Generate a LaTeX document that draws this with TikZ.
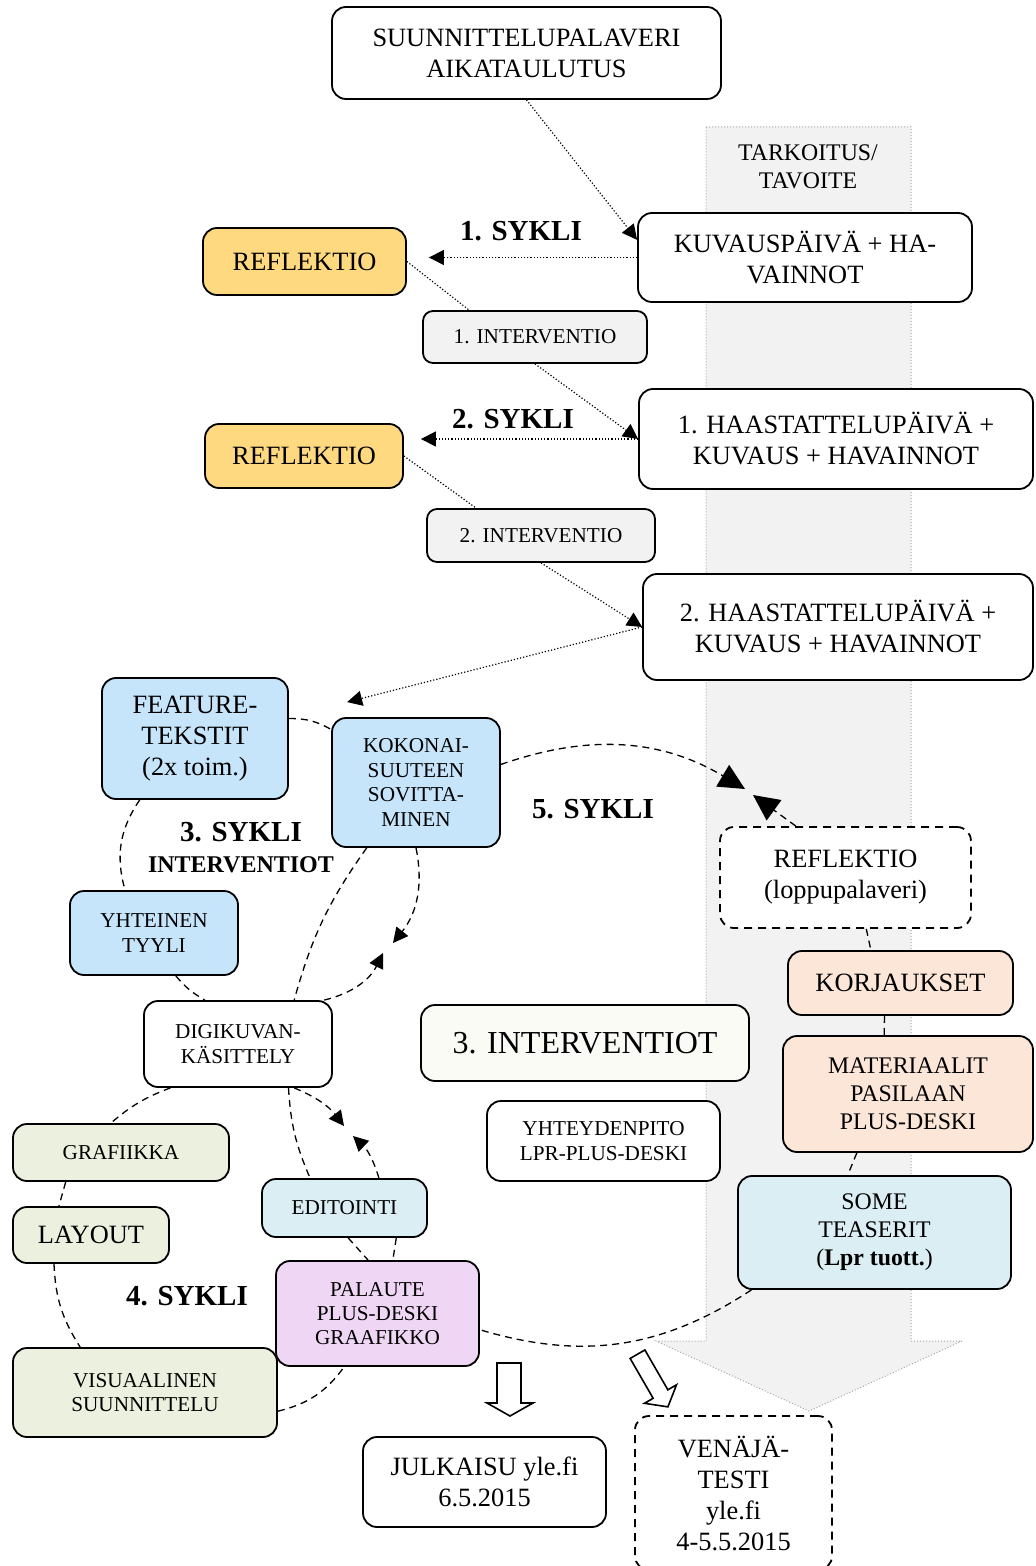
\documentclass[tikz,border=0pt]{standalone}
\usepackage{fontspec}
\setmainfont{Liberation Serif}
\usetikzlibrary{arrows.meta}

\definecolor{keltainen}{HTML}{FFD97F}
\definecolor{harmaa}{HTML}{F2F2F2}
\definecolor{sininen}{HTML}{C6E4FA}
\definecolor{vihrea}{HTML}{EBF1DE}
\definecolor{turkoosi}{HTML}{DAEEF3}
\definecolor{lila}{HTML}{F0D6F5}
\definecolor{persikka}{HTML}{FCE6D8}
\definecolor{luonnos}{HTML}{FAFBF5}

\tikzset{
  rbox/.style={draw, line width=0.9pt, rounded corners=7pt, align=center, inner sep=1pt, fill=white},
  dbox/.style={rbox, dash pattern=on 4pt off 3pt},
  fL/.style={font=\fontsize{13.2}{15.5}\selectfont},
  fM/.style={font=\fontsize{11.9}{14}\selectfont},
  fS/.style={font=\fontsize{10.6}{12.2}\selectfont},
  sykli/.style={font=\bfseries\fontsize{14.5}{15.5}\selectfont, align=center},
  pis/.style={densely dotted, line width=0.6pt},
  kat/.style={dash pattern=on 3.5pt off 2.5pt, line width=0.65pt},
  pk/.style={-{Triangle[length=7.5pt,width=7.5pt]}},
  ik/.style={-{Triangle[length=13pt,width=12.5pt]}},
}

\begin{document}
\begin{tikzpicture}[x=0.5pt,y=-0.5pt]
  \useasboundingbox (0,0) rectangle (1035,1566);

  %iso harmaa nuoli
  \draw[gray!70, densely dotted, fill=harmaa, line width=0.5pt] (706,127) -- (911,127) -- (911,1341) -- (962,1341) -- (809,1411) -- (656,1341) -- (706,1341) -- cycle;

  %ylaosa
  \node[rbox,fL,minimum width=194.5pt,minimum height=46pt] (plan) at (526.5,53) {SUUNNITTELUPALAVERI\\AIKATAULUTUS};
  \node[fM,align=center] (tavoite) at (808,167) {TARKOITUS/\\TAVOITE};
  \node[rbox,fL,minimum width=167pt,minimum height=44.5pt] (kuvaus) at (805,257.5) {KUVAUSPÄIVÄ + HA-\\VAINNOT};
  \node[rbox,fL,minimum width=197pt,minimum height=50pt] (haast1) at (836,439) {1. HAASTATTELUPÄIVÄ +\\KUVAUS + HAVAINNOT};
  \node[rbox,fL,minimum width=195pt,minimum height=53pt] (haast2) at (838,627) {2. HAASTATTELUPÄIVÄ +\\KUVAUS + HAVAINNOT};
  \node[rbox,fL,fill=keltainen,minimum width=101.5pt,minimum height=33.5pt] (refl1) at (304.5,261.5) {REFLEKTIO};
  \node[rbox,fS,fill=harmaa,rounded corners=5pt,minimum width=112pt,minimum height=26pt] (int1) at (535,337) {1. INTERVENTIO};
  \node[rbox,fL,fill=keltainen,minimum width=99pt,minimum height=32pt] (refl2) at (304,456) {REFLEKTIO};
  \node[rbox,fS,fill=harmaa,rounded corners=5pt,minimum width=114pt,minimum height=26.5pt] (int2) at (541,535.5) {2. INTERVENTIO};
  \node[sykli] (sykli1) at (521,231) {1. SYKLI};
  \node[sykli] (sykli2) at (513,419) {2. SYKLI};

  %3. sykli
  \node[rbox,fL,fill=sininen,minimum width=93pt,minimum height=60.5pt] (feature) at (195,738.5) {FEATURE-\\TEKSTIT\\(2x toim.)};
  \node[rbox,fS,fill=sininen,minimum width=84pt,minimum height=64.5pt] (kokonai) at (416,782.5) {KOKONAI-\\SUUTEEN\\SOVITTA-\\MINEN};
  \node[rbox,fS,fill=sininen,minimum width=84pt,minimum height=42pt] (yhteinen) at (154,933) {YHTEINEN\\TYYLI};
  \node[rbox,fS,minimum width=94pt,minimum height=43pt] (digi) at (238,1044) {DIGIKUVAN-\\KÄSITTELY};
  \node[sykli] (sykli3) at (241,848) {3. SYKLI\\{\fontsize{12}{15.5}\selectfont INTERVENTIOT}};

  %4. sykli
  \node[rbox,fS,fill=vihrea,minimum width=108pt,minimum height=28.5pt] (grafiikka) at (121,1152.5) {GRAFIIKKA};
  \node[rbox,fL,fill=vihrea,minimum width=78pt,minimum height=28pt] (layout) at (91,1235) {LAYOUT};
  \node[rbox,fS,fill=vihrea,minimum width=132pt,minimum height=44.5pt] (visu) at (145,1392.5) {VISUAALINEN\\SUUNNITTELU};
  \node[rbox,fS,fill=turkoosi,minimum width=82.5pt,minimum height=29pt] (editointi) at (344.5,1208) {EDITOINTI};
  \node[rbox,fS,fill=lila,minimum width=101.5pt,minimum height=52.5pt] (palaute) at (377.5,1313.5) {PALAUTE\\PLUS-DESKI\\GRAAFIKKO};
  \node[sykli] (sykli4) at (187,1296) {4. SYKLI};

  %keskiosa
  \node[rbox,fill=luonnos,font=\fontsize{16}{19}\selectfont,minimum width=164pt,minimum height=38pt] (intv3) at (585,1043) {3. INTERVENTIOT};
  \node[rbox,fS,minimum width=116.5pt,minimum height=40pt] (yhteys) at (603.5,1141) {YHTEYDENPITO\\LPR-PLUS-DESKI};
  \node[sykli] (sykli5) at (593,809) {5. SYKLI};

  %5. sykli
  \node[dbox,fL,minimum width=125.5pt,minimum height=50.5pt] (loppu) at (845.5,877.5) {REFLEKTIO\\(loppupalaveri)};
  \node[rbox,fL,fill=persikka,minimum width=112.5pt,minimum height=32pt] (korj) at (900.5,983) {KORJAUKSET};
  \node[rbox,fM,fill=persikka,minimum width=125pt,minimum height=58pt] (mater) at (908,1094) {MATERIAALIT\\PASILAAN\\PLUS-DESKI};
  \node[rbox,fM,fill=turkoosi,minimum width=136.5pt,minimum height=56.5pt] (some) at (874.5,1232.5) {SOME\\TEASERIT\\(\textbf{Lpr tuott.})};

  %julkaisu
  \node[rbox,fL,minimum width=121.5pt,minimum height=45pt] (julk) at (484.5,1482) {JULKAISU yle.fi\\6.5.2015};
  \node[dbox,fL,minimum width=98.5pt,minimum height=77pt] (venaja) at (733.5,1493) {VENÄJÄ-\\TESTI\\yle.fi\\4-5.5.2015};

  %ontot nuolet
  \draw[line width=0.8pt,fill=white] (497,1363) -- (521,1363) -- (521,1403) -- (533,1403) -- (510,1416) -- (487,1403) -- (497,1403) -- cycle;
  \begin{scope}[shift={(637.5,1354.2)},rotate=30]
    \draw[line width=0.8pt,fill=white] (-8.5,0) -- (8.5,0) -- (8.5,46) -- (18.5,46) -- (0,60.8) -- (-18.5,46) -- (-8.5,46) -- cycle;
  \end{scope}

  %pisteviivat
  \draw[pis,pk] (plan.south) -- (kuvaus.174);
  \draw[pis,pk,shorten >=11pt] (kuvaus.west) -- (kuvaus.west -| refl1.east);
  \draw[pis] (refl1.east) -- ([xshift=23.5pt]int1.north west);
  \draw[pis,pk] (int1.south) -- (haast1.west);
  \draw[pis,pk,shorten >=8.5pt] (haast1.west) -- (haast1.west -| refl2.east);
  \draw[pis] (refl2.east) -- ([xshift=25pt]int2.north west);
  \draw[pis,pk] (int2.south) -- (haast2.west);
  \draw[pis,pk] (haast2.west) -- ([xshift=8pt,yshift=7.5pt]kokonai.north west);

  %nuolenkarjet
  \coordinate (k3a) at (393,943);
  \coordinate (k3b) at (383,953);
  \coordinate (k4a) at (344,1126);
  \coordinate (k4b) at (353,1136);
  \coordinate (k5a) at (745,789);
  \coordinate (k5b) at (753,795);

  %3. sykli viivat
  \draw[kat] (feature.12) to[bend left=15] (kokonai.148);
  \draw[kat] (feature.228) to[bend right=25] (yhteinen.124);
  \draw[kat] (yhteinen.-63) to[bend right=10] (digi.127);
  \draw[kat] (kokonai.233) to[bend right=10] (digi.38);
  \draw[kat,pk] (kokonai.south) to[bend left=25] (k3a);
  \draw[kat,pk] (digi.27) to[bend right=25] (k3b);

  %4. sykli viivat
  \draw[kat] (digi.213) to[bend right=10] (grafiikka.109);
  \draw[kat] (grafiikka.208) -- (layout.138);
  \draw[kat] (layout.218) to[bend right=15] (visu.145);
  \draw[kat] (visu.-8) to[bend right=20] (palaute.238);
  \draw[kat] (digi.-41) to[bend right=10] (editointi.139);
  \draw[kat,pk] (digi.-38) to[bend left=15] (k4a);
  \draw[kat,pk] (editointi.41) to[bend right=15] (k4b);
  \draw[kat] (editointi.-83) -- (palaute.100);
  \draw[kat] (editointi.-30) -- (palaute.74);

  %5. sykli viivat
  \draw[kat,ik] (kokonai.12) to[bend left=25] (k5a);
  \draw[kat,ik] (loppu.134) -- (k5b);
  \draw[kat] (loppu.-68) -- (korj.132);
  \draw[kat] (korj.244) -- (mater.112);
  \draw[kat] (mater.229) -- (some.115);
  \draw[kat] (some.205) to[bend left=25] (palaute.-9);
\end{tikzpicture}
\end{document}
